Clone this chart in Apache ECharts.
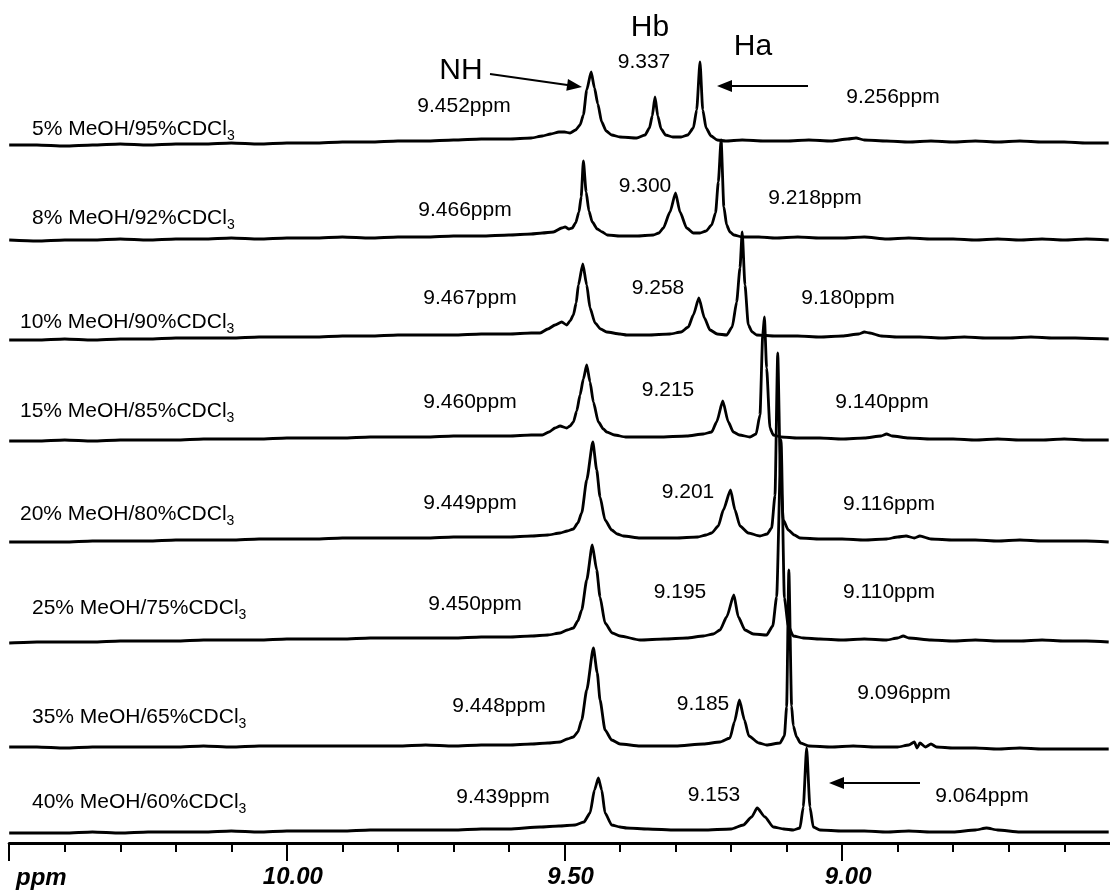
<!DOCTYPE html>
<html>
<head>
<meta charset="utf-8">
<title>NH / Hb / Ha shifts vs MeOH content</title>
<script src="https://cdn.jsdelivr.net/npm/echarts@6/dist/echarts.min.js"></script>
<style>
  html, body { margin: 0; padding: 0; background: #fff; }
  #chart { width: 1110px; height: 894px; }
</style>
</head>
<body>
<div id="chart"></div>
<script>
// Solvent mixtures, top trace to bottom trace
const solvents = [
  ['5%', '95%'], ['8%', '92%'], ['10%', '90%'], ['15%', '85%'],
  ['20%', '80%'], ['25%', '75%'], ['35%', '65%'], ['40%', '60%']
];

// Peak positions (ppm)
const peakNH = [9.452, 9.466, 9.467, 9.460, 9.449, 9.450, 9.448, 9.439];
const peakHb = [9.337, 9.300, 9.258, 9.215, 9.201, 9.195, 9.185, 9.153];
const peakHa = [9.256, 9.218, 9.180, 9.140, 9.116, 9.110, 9.096, 9.064];

// Axis tick labels (ppm)
const tickLabels = [10.00, 9.50, 9.00];

// Spectra: [ppm, intensity]
const spec05 = [[10.50,-5],[10.45,-5],[10.40,-6],[10.35,-5],[10.30,-4],[10.25,-5],[10.20,-4],[10.15,-4],[10.10,-3],[10.05,-4],[10.00,-3],[9.95,-3],[9.90,-2],[9.85,-2],[9.80,-1],[9.75,-1],[9.70,0],[9.65,1],[9.60,1],[9.56,2],[9.54,4],[9.525,6],[9.51,8],[9.50,8],[9.49,7],[9.48,10],[9.472,15],[9.466,25],[9.460,50],[9.452,68],[9.446,52],[9.440,36],[9.433,18],[9.425,9],[9.415,5],[9.40,3],[9.37,2],[9.355,5],[9.347,12],[9.342,24],[9.337,43],[9.332,24],[9.326,11],[9.318,5],[9.305,3],[9.29,3],[9.278,5],[9.268,12],[9.262,30],[9.256,78],[9.251,30],[9.245,12],[9.236,4],[9.225,0],[9.21,-1],[9.18,0],[9.14,-1],[9.10,-1],[9.06,0],[9.02,-1],[8.99,1],[8.975,2],[8.96,0],[8.92,-1],[8.88,-2],[8.84,-1],[8.80,-2],[8.76,-1],[8.72,-2],[8.68,-1],[8.64,-2],[8.60,-2],[8.56,-3],[8.52,-3]];
const spec08 = [[10.50,-3],[10.45,-4],[10.40,-3],[10.35,-3],[10.30,-2],[10.25,-3],[10.20,-2],[10.15,-2],[10.10,-1],[10.05,-2],[10.00,-1],[9.95,-1],[9.90,0],[9.85,-1],[9.80,0],[9.75,0],[9.70,1],[9.65,1],[9.60,2],[9.56,3],[9.54,4],[9.52,5],[9.505,9],[9.499,10],[9.492,8],[9.486,9],[9.480,14],[9.474,25],[9.470,40],[9.466,76],[9.461,45],[9.456,26],[9.450,15],[9.441,8],[9.432,5],[9.423,2],[9.40,1],[9.37,1],[9.34,2],[9.33,4],[9.322,9],[9.310,25],[9.300,44],[9.292,25],[9.280,9],[9.268,4],[9.256,4],[9.245,6],[9.235,12],[9.228,24],[9.223,55],[9.218,97],[9.213,30],[9.208,12],[9.202,5],[9.195,2],[9.18,0],[9.15,0],[9.12,-1],[9.08,0],[9.04,-1],[9.00,-1],[8.96,0],[8.92,-2],[8.88,-1],[8.84,-2],[8.80,-2],[8.76,-3],[8.72,-2],[8.68,-3],[8.64,-2],[8.60,-3],[8.56,-2],[8.52,-3]];
const spec10 = [[10.50,-5],[10.45,-5],[10.40,-4],[10.35,-5],[10.30,-4],[10.25,-4],[10.20,-3],[10.15,-3],[10.10,-3],[10.05,-2],[10.00,-2],[9.95,-2],[9.90,-1],[9.85,-1],[9.80,0],[9.75,0],[9.70,0],[9.65,1],[9.60,1],[9.56,2],[9.544,2],[9.530,6],[9.517,10],[9.505,13],[9.496,10],[9.490,14],[9.484,20],[9.479,32],[9.475,50],[9.467,71],[9.460,50],[9.454,27],[9.445,12],[9.435,6],[9.424,3],[9.40,1],[9.388,0],[9.35,0],[9.31,1],[9.29,3],[9.277,8],[9.268,20],[9.258,37],[9.248,17],[9.238,5],[9.225,1],[9.208,0],[9.198,8],[9.190,33],[9.184,67],[9.180,103],[9.175,50],[9.169,10],[9.162,3],[9.154,0],[9.12,-1],[9.08,-1],[9.04,-2],[9.00,-1],[8.97,1],[8.96,3],[8.95,2],[8.93,-1],[8.90,-2],[8.86,-2],[8.82,-3],[8.78,-2],[8.74,-3],[8.70,-3],[8.66,-2],[8.62,-3],[8.58,-3],[8.52,-4]];
const spec15 = [[10.50,-4],[10.45,-4],[10.40,-3],[10.35,-4],[10.30,-3],[10.25,-3],[10.20,-3],[10.15,-2],[10.10,-2],[10.05,-2],[10.00,-1],[9.95,-1],[9.90,-1],[9.85,0],[9.80,0],[9.75,0],[9.70,1],[9.65,1],[9.60,1],[9.56,2],[9.54,2],[9.528,5],[9.517,9],[9.508,11],[9.496,9],[9.490,11],[9.484,15],[9.478,26],[9.472,42],[9.466,58],[9.460,72],[9.454,55],[9.448,35],[9.439,15],[9.430,8],[9.424,5],[9.41,2],[9.39,0],[9.33,0],[9.28,1],[9.25,3],[9.235,5],[9.226,15],[9.215,36],[9.205,15],[9.196,5],[9.185,2],[9.166,0],[9.155,3],[9.148,22],[9.143,102],[9.140,120],[9.136,69],[9.130,9],[9.124,2],[9.11,0],[9.08,-1],[9.04,-1],[9.00,-2],[8.96,-1],[8.93,1],[8.92,3],[8.91,1],[8.88,-1],[8.84,-2],[8.80,-2],[8.76,-3],[8.72,-2],[8.68,-3],[8.64,-3],[8.60,-2],[8.56,-3],[8.52,-3]];
const spec20 = [[10.50,-4],[10.45,-4],[10.40,-4],[10.35,-3],[10.30,-3],[10.25,-3],[10.20,-2],[10.15,-2],[10.10,-2],[10.05,-1],[10.00,-1],[9.95,-1],[9.90,0],[9.85,0],[9.80,0],[9.75,0],[9.70,1],[9.65,1],[9.60,1],[9.56,2],[9.53,3],[9.508,5],[9.495,7],[9.484,9],[9.476,15],[9.469,25],[9.460,58],[9.449,96],[9.442,68],[9.436,41],[9.427,18],[9.415,8],[9.405,4],[9.394,2],[9.364,0],[9.30,0],[9.26,1],[9.245,3],[9.235,5],[9.223,12],[9.214,28],[9.201,48],[9.193,28],[9.184,12],[9.169,5],[9.148,2],[9.135,4],[9.127,10],[9.121,42],[9.116,185],[9.111,60],[9.106,18],[9.097,8],[9.086,3],[9.076,0],[9.04,-1],[9.00,-1],[8.96,-2],[8.92,-1],[8.90,1],[8.885,2],[8.87,0],[8.86,2],[8.84,-1],[8.80,-2],[8.76,-2],[8.72,-3],[8.68,-2],[8.64,-3],[8.60,-3],[8.56,-3],[8.52,-4]];
const spec25 = [[10.50,-5],[10.45,-4],[10.40,-4],[10.35,-4],[10.30,-3],[10.25,-3],[10.20,-3],[10.15,-2],[10.10,-2],[10.05,-2],[10.00,-1],[9.95,-1],[9.90,-1],[9.85,0],[9.80,0],[9.75,0],[9.70,0],[9.65,1],[9.60,1],[9.56,2],[9.53,3],[9.508,5],[9.495,8],[9.484,10],[9.476,17],[9.469,28],[9.460,58],[9.450,93],[9.442,68],[9.436,41],[9.427,15],[9.414,5],[9.40,2],[9.364,-2],[9.32,-1],[9.28,0],[9.25,2],[9.232,4],[9.220,8],[9.208,21],[9.195,43],[9.187,21],[9.175,8],[9.160,4],[9.136,3],[9.125,12],[9.118,41],[9.110,198],[9.104,40],[9.097,12],[9.088,2],[9.07,0],[9.04,-1],[9.00,-2],[8.96,-1],[8.92,-2],[8.90,0],[8.89,2],[8.88,0],[8.84,-2],[8.80,-3],[8.76,-2],[8.72,-3],[8.68,-3],[8.64,-2],[8.60,-3],[8.56,-3],[8.52,-4]];
const spec35 = [[10.50,-1],[10.45,-1],[10.40,-2],[10.35,-1],[10.30,-1],[10.25,-1],[10.20,-1],[10.15,0],[10.10,-1],[10.05,0],[10.00,0],[9.95,0],[9.90,0],[9.85,0],[9.80,0],[9.75,1],[9.70,0],[9.65,1],[9.60,1],[9.56,2],[9.53,3],[9.508,4],[9.495,7],[9.484,9],[9.476,14],[9.469,26],[9.460,56],[9.448,98],[9.441,73],[9.436,46],[9.427,16],[9.415,6],[9.40,2],[9.364,0],[9.30,0],[9.25,2],[9.220,4],[9.202,8],[9.194,24],[9.185,46],[9.176,26],[9.168,10],[9.150,3],[9.136,1],[9.112,3],[9.104,10],[9.100,39],[9.096,176],[9.091,40],[9.088,20],[9.082,9],[9.075,3],[9.06,0],[9.02,-1],[8.98,0],[8.94,-1],[8.90,-1],[8.88,1],[8.87,4],[8.865,-2],[8.86,3],[8.85,-1],[8.84,2],[8.83,-1],[8.80,-2],[8.76,-2],[8.72,-3],[8.68,-2],[8.64,-3],[8.60,-3],[8.56,-3],[8.52,-3]];
const spec40 = [[10.50,-3],[10.45,-3],[10.40,-3],[10.35,-2],[10.30,-3],[10.25,-2],[10.20,-2],[10.15,-2],[10.10,-1],[10.05,-2],[10.00,-1],[9.95,-1],[9.90,-1],[9.85,0],[9.80,0],[9.75,0],[9.70,0],[9.65,1],[9.60,1],[9.544,3],[9.51,4],[9.481,5],[9.465,8],[9.454,17],[9.446,40],[9.439,52],[9.433,40],[9.427,17],[9.415,5],[9.40,3],[9.388,2],[9.35,1],[9.30,0],[9.25,0],[9.20,1],[9.178,5],[9.163,13],[9.153,22],[9.139,13],[9.124,3],[9.105,1],[9.088,0],[9.076,2],[9.070,23],[9.064,82],[9.058,23],[9.052,3],[9.04,0],[9.00,-1],[8.96,-1],[8.92,-2],[8.88,-1],[8.84,-2],[8.80,-2],[8.76,0],[8.74,2],[8.72,0],[8.68,-2],[8.64,-2],[8.60,-2],[8.56,-2],[8.52,-2]];

const spectra = [spec05, spec08, spec10, spec15, spec20, spec25, spec35, spec40];

// ---- layout ----
const baselineY = [140, 237, 335, 437, 538, 638, 746, 830];   // pixel row of each trace's zero line
const axisY = 843;                                             // pixel row of the ppm axis
const PLOT_LEFT = 9.2, PLOT_WIDTH = 1110.6;                    // 10.5 .. 8.5 ppm
const INK = '#000';
const FONT = '"Liberation Sans", Arial, Helvetica, sans-serif';

// annotation anchors (text centres)
const nameAt = [[32,129],[32,218],[20,322],[20,411],[20,514],[32,608],[32,717],[32,802]];
const nhAt = [[464,106],[465,210],[470,298],[470,402],[470,503],[475,604],[499,706],[503,797]];
const hbAt = [[644,62],[645,186],[658,288],[668,390],[688,492],[680,592],[703,704],[714,795]];
const haAt = [[893,97],[815,198],[848,298],[882,402],[889,504],[889,592],[904,693],[982,796]];

const grids = [], xAxes = [], yAxes = [], series = [];
spectra.forEach((data, i) => {
  const last = i === spectra.length - 1;
  const yMin = last ? -(axisY - baselineY[i]) : -30;
  const yMax = 90;
  grids.push({
    left: PLOT_LEFT, width: PLOT_WIDTH, top: baselineY[i] - yMax, height: yMax - yMin,
    containLabel: false, outerBoundsMode: 'none'
  });
  xAxes.push({
    gridIndex: i, type: 'value', min: 8.5, max: 10.5, inverse: true, interval: 0.5,
    show: last,
    splitLine: { show: false },
    axisLine: { show: true, onZero: false, lineStyle: { color: INK, width: 3 } },
    axisTick: { show: true, length: 18, lineStyle: { color: INK, width: 2 } },
    minorTick: { show: true, splitNumber: 5, length: 9, lineStyle: { color: INK, width: 2 } },
    axisLabel: {
      show: true, margin: 22, color: INK,
      fontFamily: FONT, fontWeight: 'bold', fontStyle: 'italic', fontSize: 24,
      padding: [0, 0, 0, 12],
      showMinLabel: true, showMaxLabel: true,
      formatter: v => tickLabels.some(t => Math.abs(t - v) < 1e-6) ? v.toFixed(2) : ''
    }
  });
  yAxes.push({ gridIndex: i, type: 'value', min: yMin, max: yMax, show: false, splitLine: { show: false } });
  series.push({
    type: 'line', xAxisIndex: i, yAxisIndex: i, data,
    showSymbol: false, symbol: 'none', clip: false, smooth: 0.2, smoothMonotone: 'x',
    lineStyle: { color: INK, width: 2.8, join: 'round' }, silent: true
  });
});

// ---- text & arrows ----
const txt = (x, y, text, size, extra) => ({
  type: 'text', x, y, silent: true,
  style: Object.assign({ text, fill: INK, font: `${size}px ${FONT}`, align: 'center', verticalAlign: 'middle' }, extra || {})
});
const arrow = (x1, y1, x2, y2) => {
  const dx = x2 - x1, dy = y2 - y1, L = Math.hypot(dx, dy);
  const ux = dx / L, uy = dy / L, hl = 15, hw = 6;
  const bx = x2 - ux * hl, by = y2 - uy * hl;
  return [
    { type: 'line', silent: true, shape: { x1, y1, x2: bx + ux * 2, y2: by + uy * 2 }, style: { stroke: INK, lineWidth: 2 } },
    { type: 'polygon', silent: true, shape: { points: [[x2, y2], [bx - uy * hw, by + ux * hw], [bx + uy * hw, by - ux * hw]] }, style: { fill: INK } }
  ];
};

const graphics = [];
solvents.forEach((s, i) => {
  graphics.push({
    type: 'text', x: nameAt[i][0], y: nameAt[i][1], silent: true,
    style: {
      text: `${s[0]} MeOH/${s[1]}CDCl{s|3}`,
      fill: INK, font: `21px ${FONT}`, align: 'left', verticalAlign: 'middle', lineHeight: 28,
      rich: { s: { fontSize: 14, fontFamily: FONT, fill: INK, verticalAlign: 'bottom', lineHeight: 14 } }
    }
  });
  graphics.push(txt(nhAt[i][0], nhAt[i][1], peakNH[i].toFixed(3) + 'ppm', 21));
  graphics.push(txt(hbAt[i][0], hbAt[i][1], peakHb[i].toFixed(3), 21));
  graphics.push(txt(haAt[i][0], haAt[i][1], peakHa[i].toFixed(3) + 'ppm', 21));
});
graphics.push(txt(461, 71, 'NH', 30));
graphics.push(txt(650, 28, 'Hb', 30));
graphics.push(txt(753, 47, 'Ha', 30));
graphics.push(...arrow(490, 74, 582, 87));
graphics.push(...arrow(808, 86, 717, 86));
graphics.push(...arrow(920, 783, 829, 783));
graphics.push({
  type: 'text', x: 16, y: 878, silent: true,
  style: { text: 'ppm', fill: INK, font: `italic bold 24px ${FONT}`, align: 'left', verticalAlign: 'middle' }
});

const chart = echarts.init(document.getElementById('chart'), null, { renderer: 'canvas' });
chart.setOption({
  backgroundColor: '#fff',
  animation: false,
  grid: grids,
  xAxis: xAxes,
  yAxis: yAxes,
  series,
  graphic: graphics
});
</script>
</body>
</html>
